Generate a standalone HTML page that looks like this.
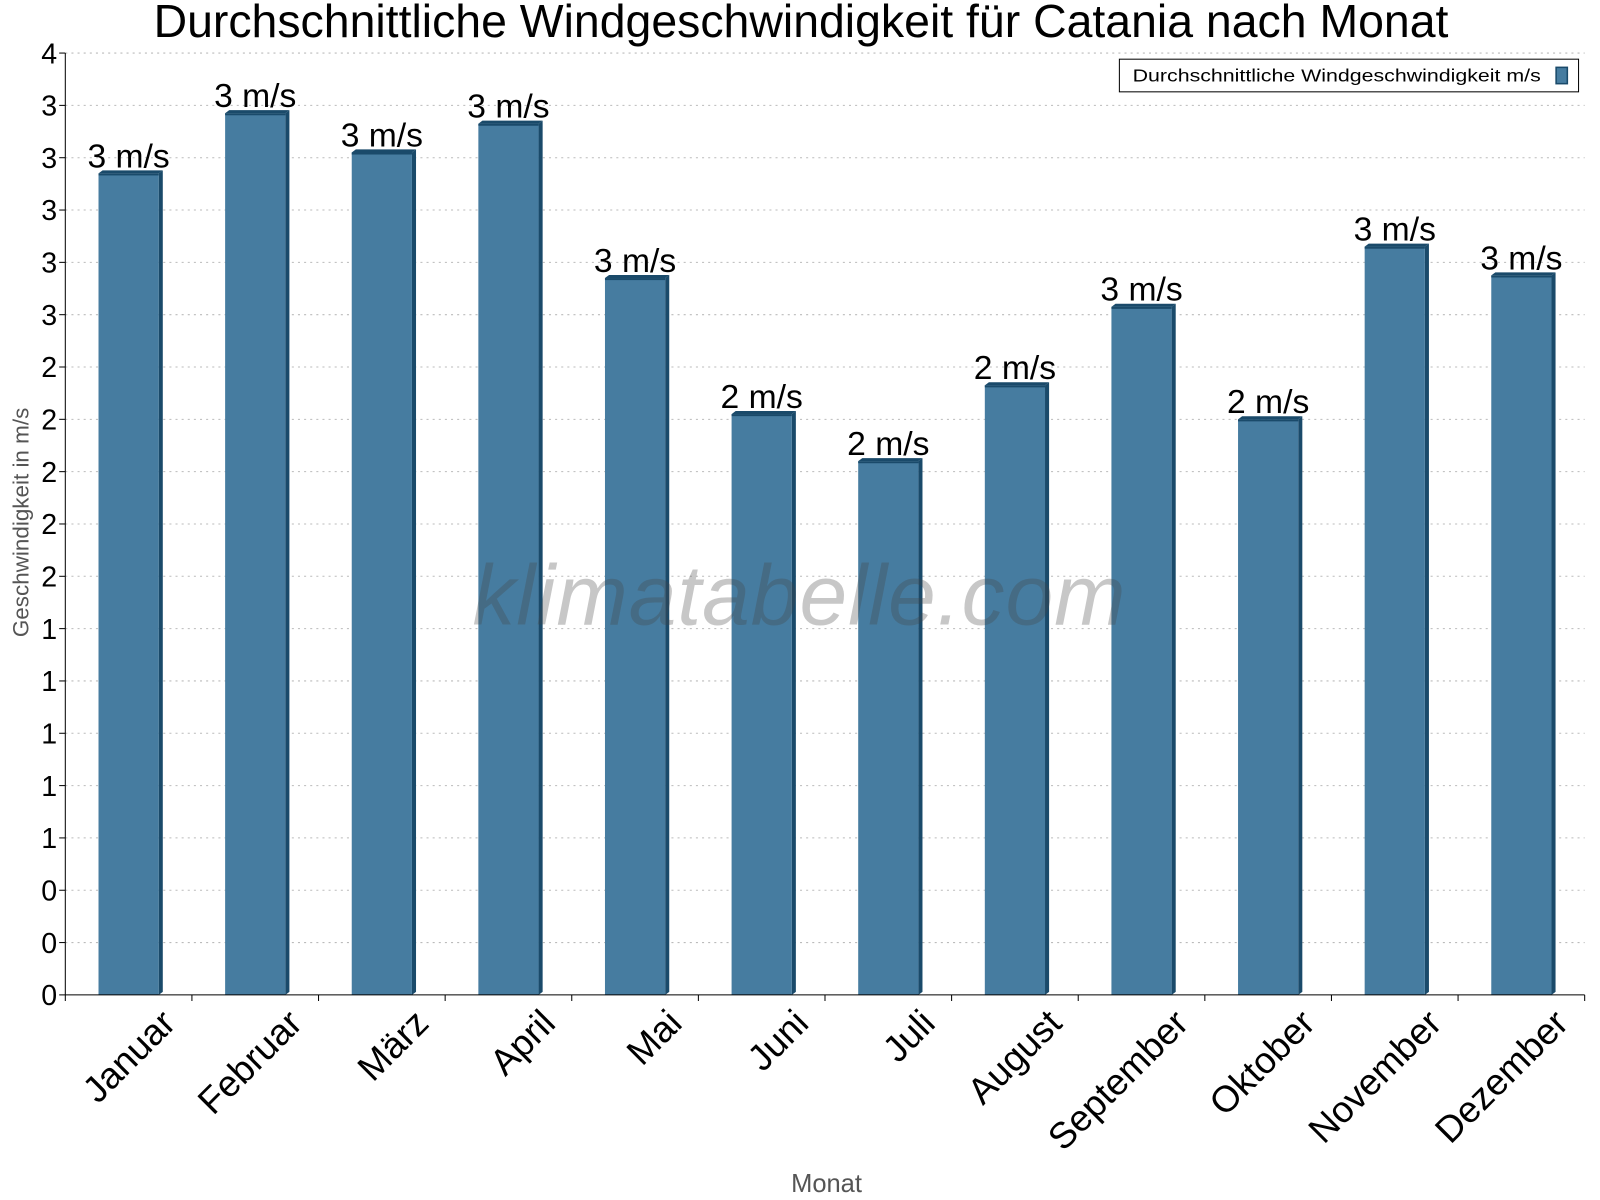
<!DOCTYPE html>
<html><head><meta charset="utf-8"><style>
html,body{margin:0;padding:0;background:#fff;}
svg{display:block;font-family:"Liberation Sans",sans-serif;}
</style></head><body>
<svg id="chart" width="1600" height="1200" viewBox="0 0 1600 1200">
<g transform="scale(1.0204)">
<text x="785" y="36" font-size="45.5" text-anchor="middle" fill="#000">Durchschnittliche Windgeschwindigkeit für Catania nach Monat</text>
<g id="grid"></g>
<g id="bars"></g>
<text x="783" y="612" font-size="84" font-style="italic" fill="#444" fill-opacity="0.3" text-anchor="middle" textLength="640">klimatabelle.com</text>
<g id="axes"></g>
<text x="28" y="512" font-size="22" fill="#555" text-anchor="middle" transform="rotate(-90 28 512)">Geschwindigkeit in m/s</text>
<text x="810" y="1168" font-size="25" fill="#555" text-anchor="middle">Monat</text>
<g>
<rect x="1097" y="58" width="450" height="32" fill="#fff" stroke="#000" stroke-width="1"/>
<text x="1110" y="80" font-size="17" fill="#000" textLength="400" lengthAdjust="spacingAndGlyphs">Durchschnittliche Windgeschwindigkeit m/s</text>
<rect x="1525" y="66" width="11" height="16" fill="#467ca0" stroke="#1a4a6a" stroke-width="1.5"/>
</g>
</g>
</svg>
<script>
const categories=["Januar","Februar","März","April","Mai","Juni","Juli","August","September","Oktober","November","Dezember"];
const values=[3.14,3.37,3.22,3.33,2.74,2.22,2.04,2.33,2.63,2.20,2.86,2.75];
const yMax=3.6;
const yTickCount=18;
const NS="http://www.w3.org/2000/svg";
const X0=64,X1=1553,Y0=975,Y1=52;
const yS=v=>Y0-(v/yMax)*(Y0-Y1);
const band=(X1-X0)/categories.length;
const xC=i=>X0+band*(i+0.5);
function mk(tag,attrs,parent){const e=document.createElementNS(NS,tag);for(const k in attrs)e.setAttribute(k,attrs[k]);parent.appendChild(e);return e;}
const grid=document.getElementById('grid'),bars=document.getElementById('bars'),axes=document.getElementById('axes');
for(let i=0;i<=yTickCount;i++){
  const v=yMax*i/yTickCount,y=yS(v);
  if(i>0){const l=mk('line',{x1:X0,x2:X1,y1:y,y2:y,stroke:'#bbb','stroke-dasharray':'2,4'},grid);
  
  }
  mk('line',{x1:X0-6,x2:X0,y1:y,y2:y,stroke:'#000'},axes);
  const t=mk('text',{x:X0-8,y:y+10,'font-size':28,'text-anchor':'end',fill:'#000'},axes);
  t.textContent=String(Math.round(v));
  
  
}
mk('line',{x1:X0,x2:X0,y1:Y1,y2:Y0,stroke:'#000'},axes);
mk('line',{x1:X0,x2:X1,y1:Y0,y2:Y0,stroke:'#000'},axes);
for(let i=0;i<=categories.length;i++){const x=X0+band*i;mk('line',{x1:x,x2:x,y1:Y0,y2:Y0+6,stroke:'#000'},axes);}
const bw=59,d=4;
categories.forEach((c,i)=>{
  const cx=xC(i),x=cx-bw/2,y=yS(values[i]);
  const g=mk('g',{},bars);
  
  
  mk('polygon',{points:`${x+bw},${y} ${x+bw+d},${y-3} ${x+bw+d},${Y0-3} ${x+bw},${Y0}`,fill:'#1a4a6a'},g);
  mk('polygon',{points:`${x},${y} ${x+d},${y-3} ${x+bw+d},${y-3} ${x+bw},${y}`,fill:'#1a4a6a'},g);
  mk('rect',{x:x,y:y,width:bw,height:Y0-y,fill:'#467ca0'},g);
  mk('rect',{x:x,y:y,width:bw,height:2,fill:'#1a4a6a'},g);
  const t=mk('text',{x:cx,y:y-6,'font-size':33,'text-anchor':'middle',fill:'#000'},bars);
  t.textContent=Math.round(values[i])+' m/s';
  
  
  const lx=cx+30,ly=Y0+12;
  const xl=mk('text',{x:lx,y:ly,'font-size':36,'text-anchor':'end',fill:'#000',transform:`rotate(-45 ${lx} ${ly})`},axes);
  xl.setAttribute('dy','0.7em');
  xl.textContent=c;
  
  
});
</script>
</body></html>
